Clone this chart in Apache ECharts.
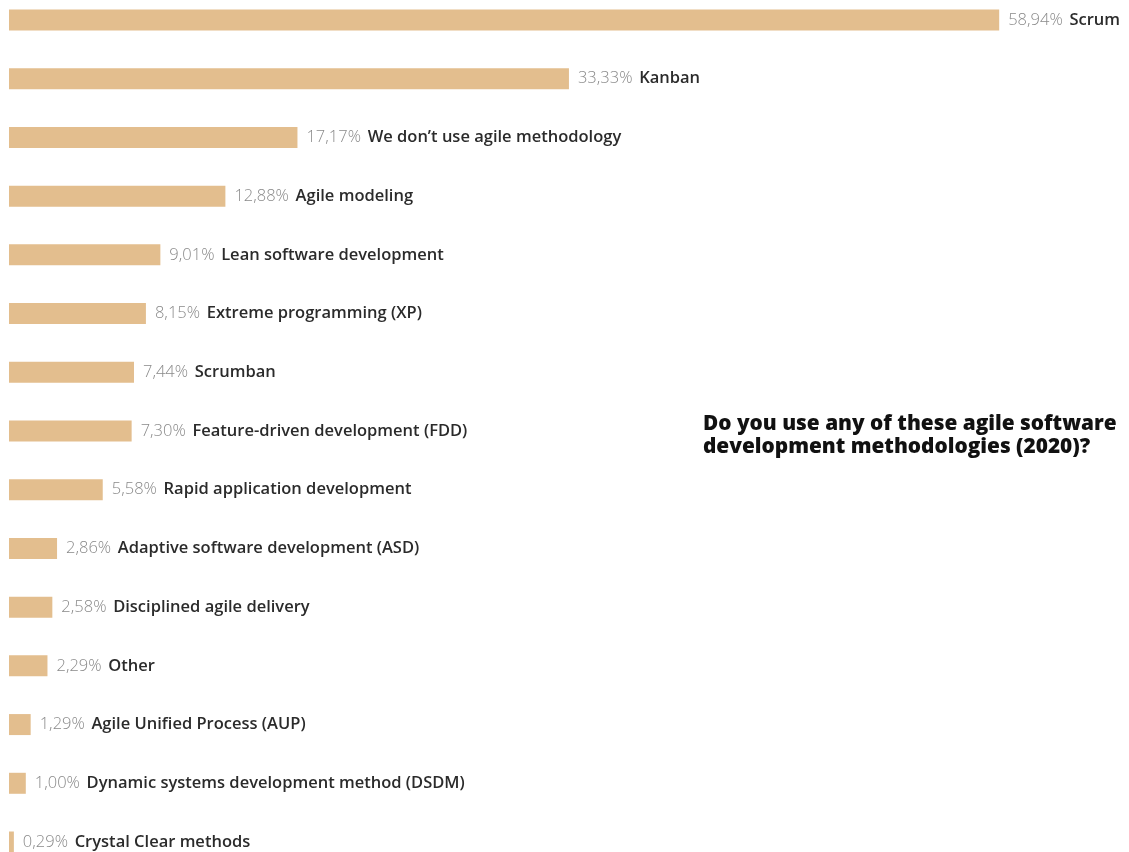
<!DOCTYPE html>
<html>
<head>
<meta charset="utf-8">
<script src="https://cdn.jsdelivr.net/npm/echarts@6/dist/echarts.min.js"></script>
<style>
  html, body { margin: 0; padding: 0; background: #fff; }
  #chart { width: 1129px; height: 852px; }
</style>
</head>
<body>
<div id="chart"></div>
<script>
// Survey answers, top to bottom
const categories = [
  'Scrum',
  'Kanban',
  'We don\u2019t use agile methodology',
  'Agile modeling',
  'Lean software development',
  'Extreme programming (XP)',
  'Scrumban',
  'Feature-driven development (FDD)',
  'Rapid application development',
  'Adaptive software development (ASD)',
  'Disciplined agile delivery',
  'Other',
  'Agile Unified Process (AUP)',
  'Dynamic systems development method (DSDM)',
  'Crystal Clear methods'
];
// Share of respondents, percent
const shares = [58.94, 33.33, 17.17, 12.88, 9.01, 8.15, 7.44, 7.30, 5.58, 2.86, 2.58, 2.29, 1.29, 1.00, 0.29];

const titleLines = ['Do you use any of these agile software', 'development methodologies (2020)?'];

const fmt = v => v.toFixed(2).replace('.', ',') + '%';

const chart = echarts.init(document.getElementById('chart'), null, { renderer: 'canvas' });
chart.setOption({
  backgroundColor: '#ffffff',
  animation: false,
  title: {
    text: titleLines.join('\n'),
    left: 703,
    top: 413,
    padding: 0,
    textStyle: {
      fontFamily: 'Open Sans',
      fontWeight: 800,
      fontSize: 20.8,
      lineHeight: 22.5,
      color: '#111111'
    }
  },
  // first and last rows sit on the grid edges
  grid: { left: 9, right: 112, top: 20, bottom: 10, containLabel: false },
  xAxis: {
    type: 'value', min: 0, max: 60,
    show: false
  },
  yAxis: {
    type: 'category',
    data: categories,
    inverse: true,
    boundaryGap: false,
    show: false
  },
  series: [{
    type: 'bar',
    data: shares,
    barWidth: 21,
    itemStyle: { color: '#E3BE8E' },
    label: {
      show: true,
      position: 'right',
      distance: 9,
      formatter: p => '{v|' + fmt(p.value) + '}  {n|' + p.name + '}',
      rich: {
        v: { fontFamily: 'Open Sans', fontSize: 16.5, fontWeight: 300, color: '#8a8a8a' },
        n: { fontFamily: 'Open Sans', fontSize: 16.5, fontWeight: 600, color: '#2b2b2b' }
      }
    }
  }]
});
</script>
</body>
</html>
